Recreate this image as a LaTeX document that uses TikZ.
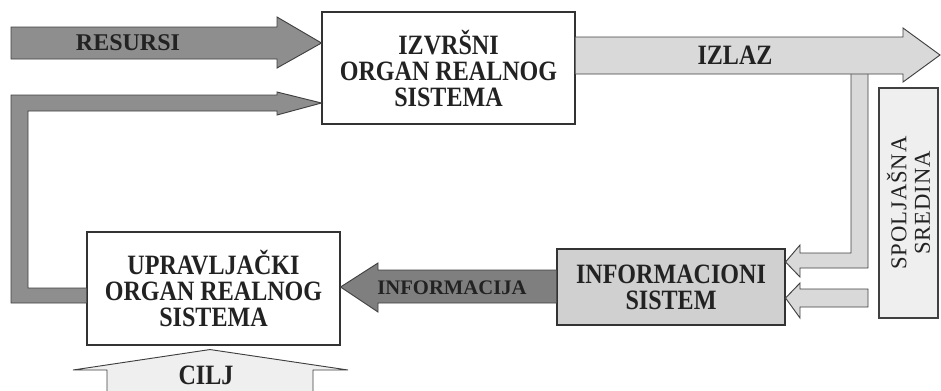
\documentclass[tikz,border=0pt]{standalone}
\usepackage{fontspec}
\setmainfont{Liberation Serif}
\newfontfamily\tallfont[FakeStretch=0.86]{Liberation Serif}
\newfontfamily\spacedfont[LetterSpace=4]{Liberation Serif}
\usepackage{tikz}
\usetikzlibrary{calc,positioning}
\definecolor{darkarrow}{HTML}{8E8E8E}
\definecolor{infoarrow}{HTML}{7F7F7F}
\definecolor{lightarrow}{HTML}{D9D9D9}
\definecolor{infobox}{HTML}{D0D0D0}
\definecolor{envbox}{HTML}{EFEFEF}
\definecolor{textgray}{HTML}{222222}
\tikzset{%
	block/.style     = {draw=black!80, line width=0.8pt, rectangle, fill=white, align=center, text=textgray, font=\tallfont\fontsize{21}{19.5}\selectfont\bfseries},
	envblock/.style  = {draw=black!75, line width=0.8pt, rectangle, fill=envbox, align=center, text=textgray, font=\spacedfont\fontsize{17}{17.5}\selectfont, rotate=90},
	bigarrow/.style  = {draw=black!75, line width=0.7pt, line join=miter},
	arrowtext/.style = {text=textgray, font=\fontsize{18}{19.5}\selectfont\bfseries},
}

\begin{document}
\begin{tikzpicture}[x=0.75pt,y=-0.75pt]
	\useasboundingbox (0,0) rectangle (941,390);
	\node [block, minimum width=189.75pt, minimum height=84pt] (izvrsni) at (448.5,68) {IZVRŠNI\\ORGAN REALNOG\\SISTEMA};
	\node [block, minimum width=189.75pt, minimum height=84.75pt] (upr) at (213.5,288.5) {UPRAVLJAČKI\\ORGAN REALNOG\\SISTEMA};
	\node [block, fill=infobox, minimum width=171pt, minimum height=57pt] (infsist) at (671,287) {INFORMACIONI\\SISTEM};
	\node [envblock, minimum width=172.5pt, minimum height=44.25pt] (sredina) at (908.5,203) {SPOLJAŠNA\\SREDINA};
	\coordinate (izlaztip) at (940,55);
	\coordinate (ciljtip) at ($(upr.south)+(-3.5,4)$);
	
	\draw[bigarrow, fill=darkarrow] (11,27) -- (277,27) -- (277,17) -- (izvrsni.west |- 0,43) -- (277,68) -- (277,59) -- (11,59) -- cycle;
	\draw[bigarrow, fill=darkarrow] (upr.west |- 0,288) -- (28,288) -- (28,111) -- (277,111) -- (277,115) -- (izvrsni.west |- 0,103) -- (277,92) -- (277,95) -- (11,95) -- (11,303) -- (upr.west |- 0,303);
	\draw[bigarrow, fill=infoarrow] (infsist.west |- 0,270) -- (378,270) -- (378,263) -- (upr.east |- 0,287) -- (378,312) -- (378,303) -- (infsist.west |- 0,303);
	\draw[bigarrow, fill=lightarrow] (868,74) -- (868,268) -- (800,268) -- (800,277) -- (infsist.east |- 0,262) -- (800,245) -- (800,253) -- (851,253) -- (851,74);
	\draw[bigarrow, fill=lightarrow] (izvrsni.east |- 0,37) -- (903,37) -- (903,28) -- (izlaztip) -- (903,82) -- (903,74) -- (izvrsni.east |- 0,74);
	\draw[bigarrow, fill=lightarrow] (868,289) -- (800,289) -- (800,283) -- (infsist.east |- 0,298) -- (800,318) -- (800,307) -- (868,307) -- cycle;
	\draw[bigarrow, fill=envbox] (107,392) -- (107,370) -- (73,370) -- (ciljtip) -- (348,370) -- (313,370) -- (313,392);
	
	\node [arrowtext] (resursi) at (128,43) {RESURSI};
	\node [arrowtext, font=\tallfont\fontsize{21}{19.5}\selectfont\bfseries] (izlaz) at (735,55) {IZLAZ};
	\node [arrowtext, font=\fontsize{15.5}{17}\selectfont\bfseries] (informacija) at (452,288) {INFORMACIJA};
	\node [arrowtext, font=\tallfont\fontsize{21}{19.5}\selectfont\bfseries] (cilj) at (206,375) {CILJ};
\end{tikzpicture}
\end{document}
